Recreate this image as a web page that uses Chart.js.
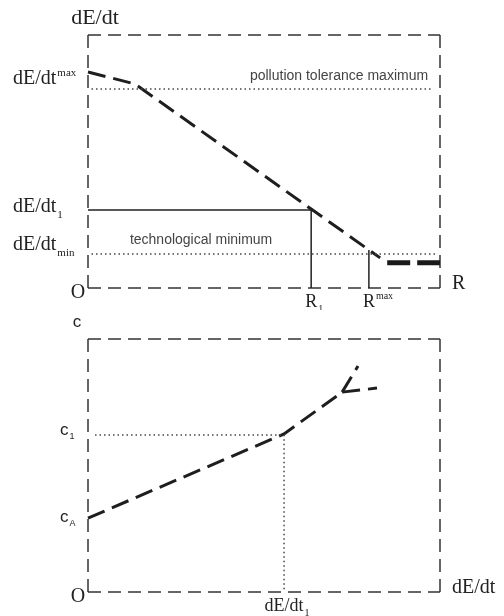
<!DOCTYPE html>
<html>
<head>
<meta charset="utf-8">
<script src="https://cdn.jsdelivr.net/npm/chart.js@4"></script>
<style>
  body { margin: 0; background: #fff; }
  #wrap { width: 504px; height: 616px; position: relative; }
  canvas { display: block; }
</style>
</head>
<body>
<div id="wrap">
  <canvas id="topChart" width="504" height="310"></canvas>
  <canvas id="bottomChart" width="504" height="306"></canvas>
</div>
<script>
// ---- top panel: dE/dt against R (0..100 on both axes) ----
const topCurveX = [0, 13.4, 63.4, 83];
const topCurveY = [85.4, 80.6, 31.2, 11.9];
const topFlatX = [85, 100];
const topFlatY = [10, 10];
const pollutionMax = 78.7;
const techMin = 13.4;
const dEdt1 = 30.8;
const r1 = 63.4;
const rMax = 79.8;
const rMaxTop = 15;

const topYTicks = [82.6, 32, 17];
const topYLabels = ['dE/dt^max', 'dE/dt_1', 'dE/dt_min'];
const topXTicks = [r1, rMax];
const topXLabels = ['R_1', 'R^max'];

// ---- bottom panel: c against dE/dt ----
const botCurveX = [0, 55.7, 72.2];
const botCurveY = [29.2, 62.5, 79];
const branchUpX = [72.2, 76.7];
const branchUpY = [79, 89.3];
const branchRightX = [72.2, 82.1];
const branchRightY = [79, 80.6];
const c1 = 62.1;
const xdEdt1 = 55.7;

const botYTicks = [64, 29.6];
const botYLabels = ['c_1', 'c_A'];
const botXTicks = [xdEdt1];
const botXLabels = ['dE/dt_1'];

function pts(xs, ys) {
    return xs.map((x, i) => ({ x: x, y: ys[i] }));
}

function line(data, opts) {
    return Object.assign({
        data: data,
        showLine: true,
        pointRadius: 0,
        borderColor: '#222',
        borderWidth: 1.5,
        fill: false,
        tension: 0,
        clip: false
    }, opts);
}

const CURVE = { borderWidth: 3, borderDash: [18, 8], borderColor: '#1e1e1e' };
const DOTS = { borderWidth: 1.5, borderDash: [1.5, 3], borderColor: '#444' };

const SERIF = '"Liberation Serif", "Times New Roman", serif';
const SANS = '"Liberation Sans", Arial, sans-serif';

// draws "main^sup" or "main_sub"
function drawRich(ctx, s, x, y, align, size, family) {
    const m = s.match(/^([^_^]*)([_^]?)(.*)$/);
    const main = m[1], mode = m[2], script = m[3];
    const mainFont = size + 'px ' + family;
    const scrFont = Math.round(size * 0.55) + 'px ' + family;
    ctx.font = mainFont;
    const w1 = ctx.measureText(main).width;
    ctx.font = scrFont;
    const w2 = script ? ctx.measureText(script).width : 0;
    let x0 = x;
    if (align === 'center') x0 = x - w1 / 2;
    if (align === 'right') x0 = x - w1 - w2;
    ctx.textAlign = 'left';
    ctx.textBaseline = 'middle';
    ctx.font = mainFont;
    ctx.fillText(main, x0, y);
    if (script) {
        ctx.font = scrFont;
        const dy = mode === '^' ? -size * 0.3 : size * 0.4;
        ctx.fillText(script, x0 + w1 + 1, y + dy);
    }
}

function frame(ctx, a) {
    ctx.save();
    ctx.strokeStyle = '#333';
    ctx.lineWidth = 1.5;
    ctx.setLineDash([13, 7]);
    const sides = [
        [a.left, a.top, a.right, a.top],
        [a.left, a.top, a.left, a.bottom],
        [a.right, a.top, a.right, a.bottom],
        [a.left, a.bottom, a.right, a.bottom]
    ];
    sides.forEach(s => {
        ctx.beginPath();
        ctx.moveTo(s[0], s[1]);
        ctx.lineTo(s[2], s[3]);
        ctx.stroke();
    });
    ctx.restore();
}

function panelPlugin(cfg) {
    return {
        id: 'panel',
        beforeDatasetsDraw(chart) {
            frame(chart.ctx, chart.chartArea);
        },
        afterDraw(chart) {
            const ctx = chart.ctx;
            const a = chart.chartArea;
            const xs = chart.scales.x, ys = chart.scales.y;
            ctx.save();
            ctx.fillStyle = '#222';
            cfg.yTicks.forEach((v, i) => {
                drawRich(ctx, cfg.yLabels[i], cfg.yLabelX, ys.getPixelForValue(v), 'left', cfg.yFont, cfg.yFamily);
            });
            cfg.xTicks.forEach((v, i) => {
                drawRich(ctx, cfg.xLabels[i], xs.getPixelForValue(v), a.bottom + 14, 'center', cfg.xFont, SERIF);
            });
            // origin and axis names
            drawRich(ctx, 'O', a.left - 10, a.bottom + 5, 'center', 20, SERIF);
            drawRich(ctx, cfg.yName, a.left + cfg.yNameDx, a.top - 17, 'center', cfg.yNameSize, cfg.yNameFamily);
            drawRich(ctx, cfg.xName, a.right + 12, a.bottom - 4, 'left', 20, SERIF);
            // in-plot notes
            ctx.fillStyle = '#444';
            (cfg.notes || []).forEach(n => {
                ctx.font = n.size + 'px ' + SANS;
                ctx.textAlign = 'left';
                ctx.textBaseline = 'middle';
                ctx.fillText(n.text, xs.getPixelForValue(n.x), ys.getPixelForValue(n.y));
            });
            ctx.restore();
        }
    };
}

function baseOptions(padding) {
    return {
        responsive: false,
        animation: false,
        layout: { padding: padding },
        plugins: { legend: { display: false }, tooltip: { enabled: false } },
        scales: {
            x: { type: 'linear', min: 0, max: 100, display: false },
            y: { type: 'linear', min: 0, max: 100, display: false }
        }
    };
}

new Chart(document.getElementById('topChart'), {
    type: 'scatter',
    data: {
        datasets: [
            line(pts([1, 98], [pollutionMax, pollutionMax]), DOTS),
            line(pts([1, 99], [techMin, techMin]), DOTS),
            line(pts([0, r1, r1], [dEdt1, dEdt1, 0]), { borderWidth: 1.5 }),
            line(pts([rMax, rMax], [rMaxTop, 0]), { borderWidth: 1.5 }),
            line(pts(topCurveX, topCurveY), CURVE),
            line(pts(topFlatX, topFlatY), { borderWidth: 5, borderDash: [23, 7], borderColor: '#1a1a1a' })
        ]
    },
    options: baseOptions({ left: 88, right: 64, top: 35, bottom: 22 }),
    plugins: [panelPlugin({
        yTicks: topYTicks, yLabels: topYLabels, yLabelX: 13, yFont: 20, yFamily: SERIF,
        xTicks: topXTicks, xLabels: topXLabels, xFont: 18,
        yName: 'dE/dt', yNameDx: 7, yNameSize: 22, yNameFamily: SERIF,
        xName: 'R',
        notes: [
            { text: 'pollution tolerance maximum', x: 46, y: 83.8, size: 14 },
            { text: 'technological minimum', x: 11.9, y: 19, size: 14 }
        ]
    })]
});

new Chart(document.getElementById('bottomChart'), {
    type: 'scatter',
    data: {
        datasets: [
            line(pts([2, xdEdt1, xdEdt1], [c1, c1, 0]), DOTS),
            line(pts(botCurveX, botCurveY), CURVE),
            line(pts(branchUpX, branchUpY), CURVE),
            line(pts(branchRightX, branchRightY), CURVE)
        ]
    },
    options: baseOptions({ left: 88, right: 64, top: 29, bottom: 24 }),
    plugins: [panelPlugin({
        yTicks: botYTicks, yLabels: botYLabels, yLabelX: 60, yFont: 17, yFamily: SANS,
        xTicks: botXTicks, xLabels: botXLabels, xFont: 18,
        yName: 'c', yNameDx: -11, yNameSize: 17, yNameFamily: SANS,
        xName: 'dE/dt',
        notes: []
    })]
});
</script>
</body>
</html>
